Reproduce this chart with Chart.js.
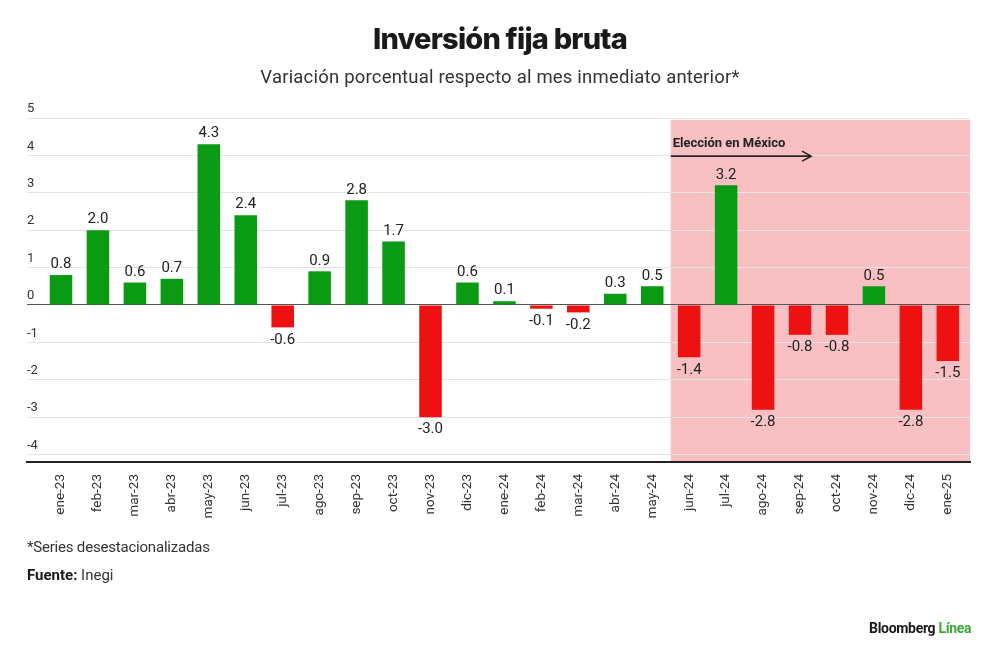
<!DOCTYPE html>
<html>
<head>
<meta charset="utf-8">
<script src="https://cdn.jsdelivr.net/npm/chart.js@4"></script>
<style>
  body { margin: 0; background: #fff; font-family: Roboto, "Noto Sans", sans-serif; color: #222; }
  #wrap { position: relative; width: 1000px; height: 660px; overflow: hidden; }
  #chart { position: absolute; left: 0; top: 0; }
  .txt { position: absolute; white-space: nowrap; }
  #title { left: 0; width: 1000px; top: 21px; text-align: center; font: 800 29px Inter, Roboto, sans-serif; letter-spacing: -0.8px; color: #1a1a1a; }
  #subtitle { left: 0; width: 1000px; top: 66px; text-align: center; font: 400 18.5px Roboto, sans-serif; letter-spacing: 0.2px; color: #333; }
  #note { left: 27px; top: 538px; font: 400 15px Roboto, sans-serif; color: #333; letter-spacing: -0.2px; }
  #source { left: 27px; top: 566px; font: 400 15px Roboto, sans-serif; color: #333; }
  #source b { color: #1a1a1a; }
  #logo { left: 869px; top: 620px; font: 700 14px Roboto, sans-serif; color: #1a1a1a; letter-spacing: -0.3px; }
  #logo span { color: #3aa83a; }
</style>
</head>
<body>
<div id="wrap">
  <canvas id="chart" width="1000" height="660"></canvas>
  <div class="txt" id="title">Inversión fija bruta</div>
  <div class="txt" id="subtitle">Variación porcentual respecto al mes inmediato anterior*</div>
  <div class="txt" id="note">*Series desestacionalizadas</div>
  <div class="txt" id="source"><b>Fuente:</b> Inegi</div>
  <div class="txt" id="logo">Bloomberg <span>Línea</span></div>
</div>
<script>
  // Monthly data, ene-23 .. ene-25
  const months = ["ene-23", "feb-23", "mar-23", "abr-23", "may-23", "jun-23", "jul-23", "ago-23", "sep-23", "oct-23", "nov-23", "dic-23",
    "ene-24", "feb-24", "mar-24", "abr-24", "may-24", "jun-24", "jul-24", "ago-24", "sep-24", "oct-24", "nov-24", "dic-24", "ene-25"];
  const variation = [0.8, 2.0, 0.6, 0.7, 4.3, 2.4, -0.6, 0.9, 2.8, 1.7, -3.0, 0.6,
    0.1, -0.1, -0.2, 0.3, 0.5, -1.4, 3.2, -2.8, -0.8, -0.8, 0.5, -2.8, -1.5];
  const yTicks = [5, 4, 3, 2, 1, 0, -1, -2, -3, -4];

  // Election period highlight (from jun-24 to the end)
  const electionStart = "jun-24";
  const electionLabel = "Elección en México";

  const GREEN = "#0b9a14";
  const RED = "#ee1111";

  // Pink band for the election period, drawn under the grid
  const bandPlugin = {
    id: "band",
    beforeDraw(chart) {
      const { ctx, chartArea, scales } = chart;
      const x0 = scales.x.getPixelForValue(months.indexOf(electionStart) - 0.5);
      const y0 = scales.y.getPixelForValue(4.95);
      ctx.save();
      ctx.fillStyle = "#f8c0c2";
      ctx.fillRect(x0, y0, chartArea.right - x0, chartArea.bottom - y0);
      ctx.restore();
    },
  };

  // Value labels + annotation arrow
  const labelPlugin = {
    id: "labels",
    afterDatasetsDraw(chart) {
      const { ctx, scales } = chart;
      const meta = chart.getDatasetMeta(0);
      ctx.save();
      ctx.font = "400 15px Roboto, sans-serif";
      ctx.fillStyle = "#222";
      ctx.textAlign = "center";
      meta.data.forEach((bar, i) => {
        const v = variation[i];
        if (v >= 0) {
          ctx.textBaseline = "bottom";
          ctx.fillText(v.toFixed(1), bar.x, bar.y - 3);
        } else {
          ctx.textBaseline = "top";
          ctx.fillText(v.toFixed(1), bar.x, bar.y + 5);
        }
      });

      // annotation
      const ax0 = scales.x.getPixelForValue(months.indexOf(electionStart) - 0.5);
      const ax1 = scales.x.getPixelForValue(20.3);
      const ay = scales.y.getPixelForValue(3.98);
      ctx.font = "700 13px Roboto, sans-serif";
      ctx.fillStyle = "#222";
      ctx.textAlign = "left";
      ctx.textBaseline = "alphabetic";
      ctx.fillText(electionLabel, ax0 + 2, ay - 9);
      ctx.strokeStyle = "#222";
      ctx.lineWidth = 1.6;
      ctx.beginPath();
      ctx.moveTo(ax0, ay);
      ctx.lineTo(ax1, ay);
      ctx.moveTo(ax1 - 9, ay - 5);
      ctx.lineTo(ax1, ay);
      ctx.lineTo(ax1 - 9, ay + 5);
      ctx.stroke();
      ctx.restore();
    },
  };

  new Chart(document.getElementById("chart"), {
    type: "bar",
    data: {
      datasets: [
        {
          data: variation.map((v, i) => ({ x: i, y: v })),
          backgroundColor: variation.map((v) => (v >= 0 ? GREEN : RED)),
          barPercentage: 0.61,
          categoryPercentage: 1,
        },
      ],
    },
    options: {
      responsive: false,
      animation: false,
      layout: { padding: { left: 27, right: 30, top: 118, bottom: 138 } },
      plugins: { legend: { display: false }, tooltip: { enabled: false } },
      scales: {
        x: {
          type: "linear",
          offset: false,
          min: -0.92,
          max: 24.6,
          afterBuildTicks: (scale) => {
            scale.ticks = months.map((m, i) => ({ value: i }));
          },
          afterFit: (scale) => {
            scale.height = 60;
          },
          grid: { display: false },
          border: { display: true, color: "#222", width: 2 },
          ticks: {
            autoSkip: false,
            maxRotation: 90,
            minRotation: 90,
            padding: 4,
            color: "#333",
            font: { family: "Roboto", size: 13.5 },
            callback: (v) => months[v],
          },
        },
        y: {
          min: -4.2,
          max: 5,
          afterBuildTicks: (scale) => {
            scale.ticks = yTicks.map((v) => ({ value: v }));
          },
          afterFit: (scale) => {
            scale.width = 0;
          },
          border: { display: false },
          grid: {
            drawTicks: false,
            color: (c) => (c.tick && c.tick.value === 0 ? "#555" : "#e4e4e4"),
            lineWidth: 1,
          },
          ticks: {
            mirror: true,
            padding: 0,
            labelOffset: -9,
            color: "#333",
            font: { family: "Roboto", size: 13 },
          },
        },
      },
    },
    plugins: [bandPlugin, labelPlugin],
  });
</script>
</body>
</html>
